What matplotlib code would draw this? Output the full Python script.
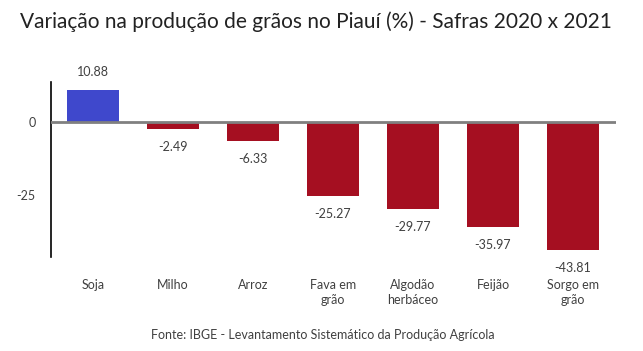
import matplotlib
matplotlib.use("Agg")
import matplotlib.pyplot as plt

categories = ["Soja", "Milho", "Arroz", "Fava em\ngrão", "Algodão\nherbáceo", "Feijão", "Sorgo em\ngrão"]
values = [10.88, -2.49, -6.33, -25.27, -29.77, -35.97, -43.81]
yticks = [0, -25]
title = "Variação na produção de grãos no Piauí (%) - Safras 2020 x 2021"
source = "Fonte: IBGE - Levantamento Sistemático da Produção Agrícola"

plt.rcParams['font.family'] = ['Lato', 'DejaVu Sans']

fig = plt.figure(figsize=(6.43, 3.51), dpi=100)
ax = fig.add_axes([51/643, 1-257/351, (616-51)/643, (257-82)/351])

pos = "#3F48CC"
neg = "#A50F21"
colors = [pos if v >= 0 else neg for v in values]
x = list(range(len(categories)))
ax.bar(x, values, width=0.65, color=colors, zorder=2)

ax.set_xlim(-0.525, 6.5375)
ax.set_ylim(-46.2, 13.7)
ax.axhline(0, color="#808080", lw=2, zorder=3)

for xi, v in zip(x, values):
    off = 13 if v >= 0 else -13
    ax.annotate(f"{v:.2f}", (xi, v), xytext=(0, off), textcoords="offset points",
                ha="center", va="center", fontsize=9, color="#404040")

ax.set_xticks(x)
ax.set_xticklabels(categories, fontsize=9, color="#404040", linespacing=1.3)
ax.tick_params(axis="x", length=0, pad=16)
ax.set_yticks(yticks)
ax.set_yticklabels([str(t) for t in yticks], fontsize=9, color="#404040")
ax.tick_params(axis="y", length=0, pad=11)

for s in ["top", "right", "bottom"]:
    ax.spines[s].set_visible(False)
ax.spines["left"].set_color("black")
ax.spines["left"].set_linewidth(1.2)

fig.text(316/643, 1-22/351, title, ha="center", va="center", fontsize=15, color="#222222")
fig.text(323/643, 1-335/351, source, ha="center", va="center", fontsize=9, color="#404040")

fig.savefig("out.png", dpi=100)
